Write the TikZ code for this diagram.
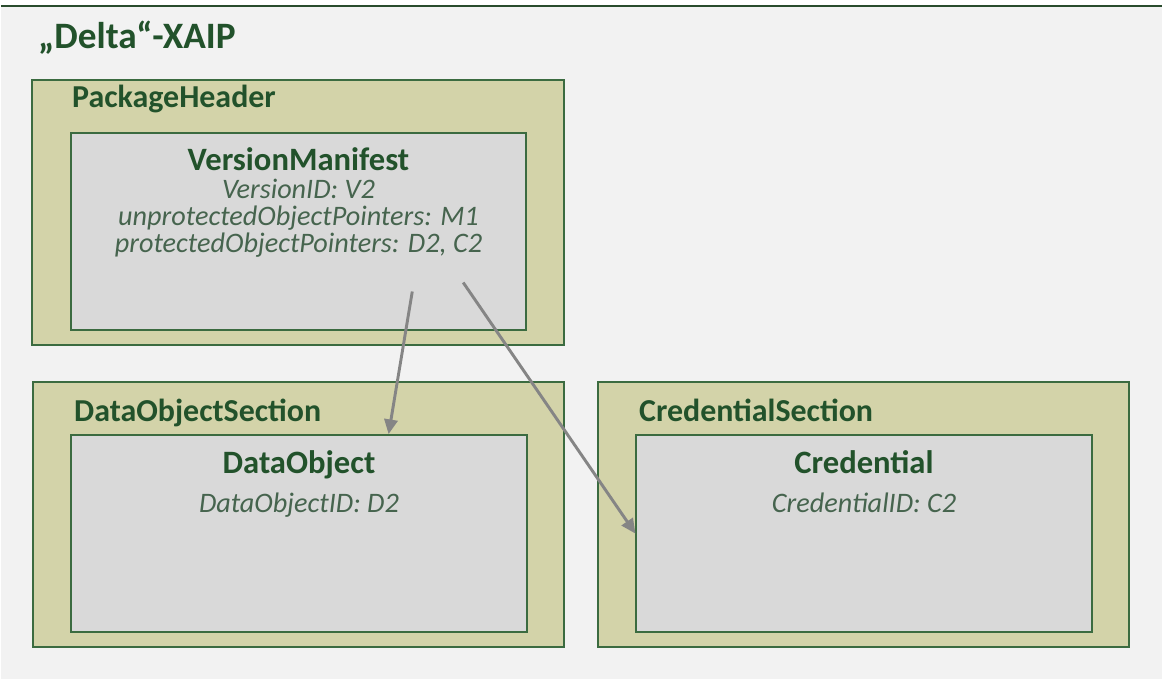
\documentclass[tikz,border=0pt]{standalone}
\usepackage{fontspec}
\setmainfont{Carlito}
\usetikzlibrary{positioning,calc,arrows.meta}
\definecolor{bggray}{HTML}{F2F2F2}
\definecolor{khaki}{HTML}{D3D3A9}
\definecolor{innergray}{HTML}{D9D9D9}
\definecolor{framegreen}{HTML}{3B6B40}
\definecolor{headgreen}{HTML}{22522B}
\definecolor{attrgreen}{HTML}{46644E}
\definecolor{ptrgray}{HTML}{858585}
\tikzset{
  section/.style={draw=framegreen, line width=1.5pt, fill=khaki, minimum width=399pt, minimum height=199pt, inner sep=0pt},
  object/.style={draw=framegreen, line width=1.5pt, fill=innergray, minimum width=342pt, minimum height=148pt, inner sep=0pt},
  sectitle/.style={text=headgreen, font=\bfseries\fontsize{24}{28}\selectfont, anchor=base west, inner sep=0pt},
  objtitle/.style={text=headgreen, font=\bfseries\fontsize{24.5}{28}\selectfont, anchor=base, inner sep=0pt, text depth=0pt},
  attr/.style={text=attrgreen, font=\itshape\fontsize{21.2}{26}\selectfont, anchor=base, inner sep=0pt},
  ptr/.style={draw=ptrgray, line width=2.2pt, -{Triangle[length=11pt, width=10pt]}}
}
\begin{document}
\begin{tikzpicture}[x=0.75pt, y=-0.75pt]
  % background and top rule
  \fill[white] (0,0) rectangle (1163,680);
  \fill[bggray] (0,7) rectangle (1163,680);
  \draw[framegreen!70!black, line width=1.5pt] (0,6) -- (1163,6);
  \useasboundingbox (0,0) rectangle (1163,680);

  \node[text=headgreen, font=\bfseries\fontsize{28}{32}\selectfont, anchor=base west, inner sep=0pt] (xaip) at (37,49) {„Delta“-XAIP};

  % sections
  \node[section] (header) at (297.5,212.5) {};
  \node[section] (datasec) at (298,515.5) {};
  \node[section] (credsec) at (864,515.5) {};
  \node[sectitle] (headerlbl) at (71,108) {PackageHeader};
  \node[sectitle] (datasec lbl) at (73,422) {DataObjectSection};
  \node[sectitle] (credsec lbl) at (639,422) {CredentialSection};

  % objects
  \node[object] (manifest) at (298,232) {};
  \node[object] (dobj) at (298.5,534.5) {};
  \node[object] (cred) at (864.5,534.5) {};

  \node[objtitle] (manifest title) at (298,171) {VersionManifest};
  \node[attr] (vid) at (298,199) {VersionID: V2};
  \node[attr] (unprot) at (298,226) {unprotectedObjectPointers: M1};
  \node[attr] (prot) at (298,253) {protectedObjectPointers: D2, C2};

  \node[objtitle] (dobj title) at (298.5,474) {DataObject};
  \node[attr] (dobjid) at (298.5,513) {DataObjectID: D2};
  \node[objtitle] (cred title) at (864.5,474) {Credential};
  \node[attr] (credid) at (864.5,513) {CredentialID: C2};

  % pointers
  \coordinate (ptrD) at (412,292);
  \coordinate (ptrC) at (463,283);
  \draw[ptr] (ptrD) -- ($(dobj.north west)!0.696!(dobj.north east)$);
  \draw[ptr] (ptrC) -- (cred.west);
\end{tikzpicture}
\end{document}
